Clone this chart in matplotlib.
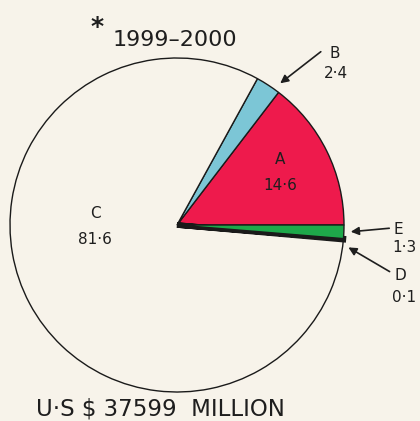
import matplotlib
matplotlib.use("Agg")
from matplotlib import pyplot as plt

# share of each sector, per cent (counter-clockwise from 3 o'clock)
sectors = ["A", "B", "C", "D", "E"]
shares = [14.6, 2.4, 81.6, 0.1, 1.3]
colours = ["#ee1a4c", "#7cc6d6", "#f7f3ea", "#111111", "#1ea84a"]
period = "1999\u20132000"
total_text = "U\u00b7S $ 37599  MILLION"

bg = "#f7f3ea"
H = 421

fig = plt.figure(figsize=(4.2, 4.21), dpi=100, facecolor=bg)
ax = fig.add_axes([0, 0, 1, 1])
ax.set_facecolor(bg)

cx, cy, r = 177, H - 225, 167
wedges, _ = ax.pie(shares, colors=colours, startangle=0, counterclock=True,
                   center=(cx, cy), radius=r, frame=True,
                   wedgeprops=dict(edgecolor="#1a1a1a", linewidth=1.0))
wedges[3].set_linewidth(4)
ax.set_xlim(0, 420)
ax.set_ylim(0, H)
ax.set_aspect("equal")
ax.axis("off")


def px(x, y):
    return (x, H - y)


font = dict(family="DejaVu Sans", color="#1e1e1e", ha="center", va="center")

ax.text(*px(97, 27), "*", fontsize=18, fontweight="bold", **font)
ax.text(*px(175, 40), period, fontsize=16, **font)
ax.text(*px(160, 409), total_text, fontsize=16.5, **font)

ax.text(*px(95, 213), "C", fontsize=11, **font)
ax.text(*px(95, 239), "81\u00b76", fontsize=11, **font)
ax.text(*px(280, 160), "A", fontsize=11, **font)
ax.text(*px(280, 185), "14\u00b76", fontsize=11, **font)

ax.text(*px(335, 53), "B", fontsize=11, **font)
ax.text(*px(336, 73), "2\u00b74", fontsize=11, **font)
ax.text(*px(398, 229), "E", fontsize=11, **font)
ax.text(*px(404, 248), "1\u00b73", fontsize=11, **font)
ax.text(*px(400, 276), "D", fontsize=11, **font)
ax.text(*px(404, 298), "0\u00b71", fontsize=11, **font)

arrow = dict(arrowstyle="-|>", color="#1e1e1e", lw=1.2, mutation_scale=12)
ax.annotate("", xy=px(278, 85), xytext=px(323, 50), arrowprops=arrow)
ax.annotate("", xy=px(348, 232), xytext=px(392, 228), arrowprops=arrow)
ax.annotate("", xy=px(346, 246), xytext=px(392, 273), arrowprops=arrow)

fig.savefig("out.png", dpi=100, facecolor=bg)
